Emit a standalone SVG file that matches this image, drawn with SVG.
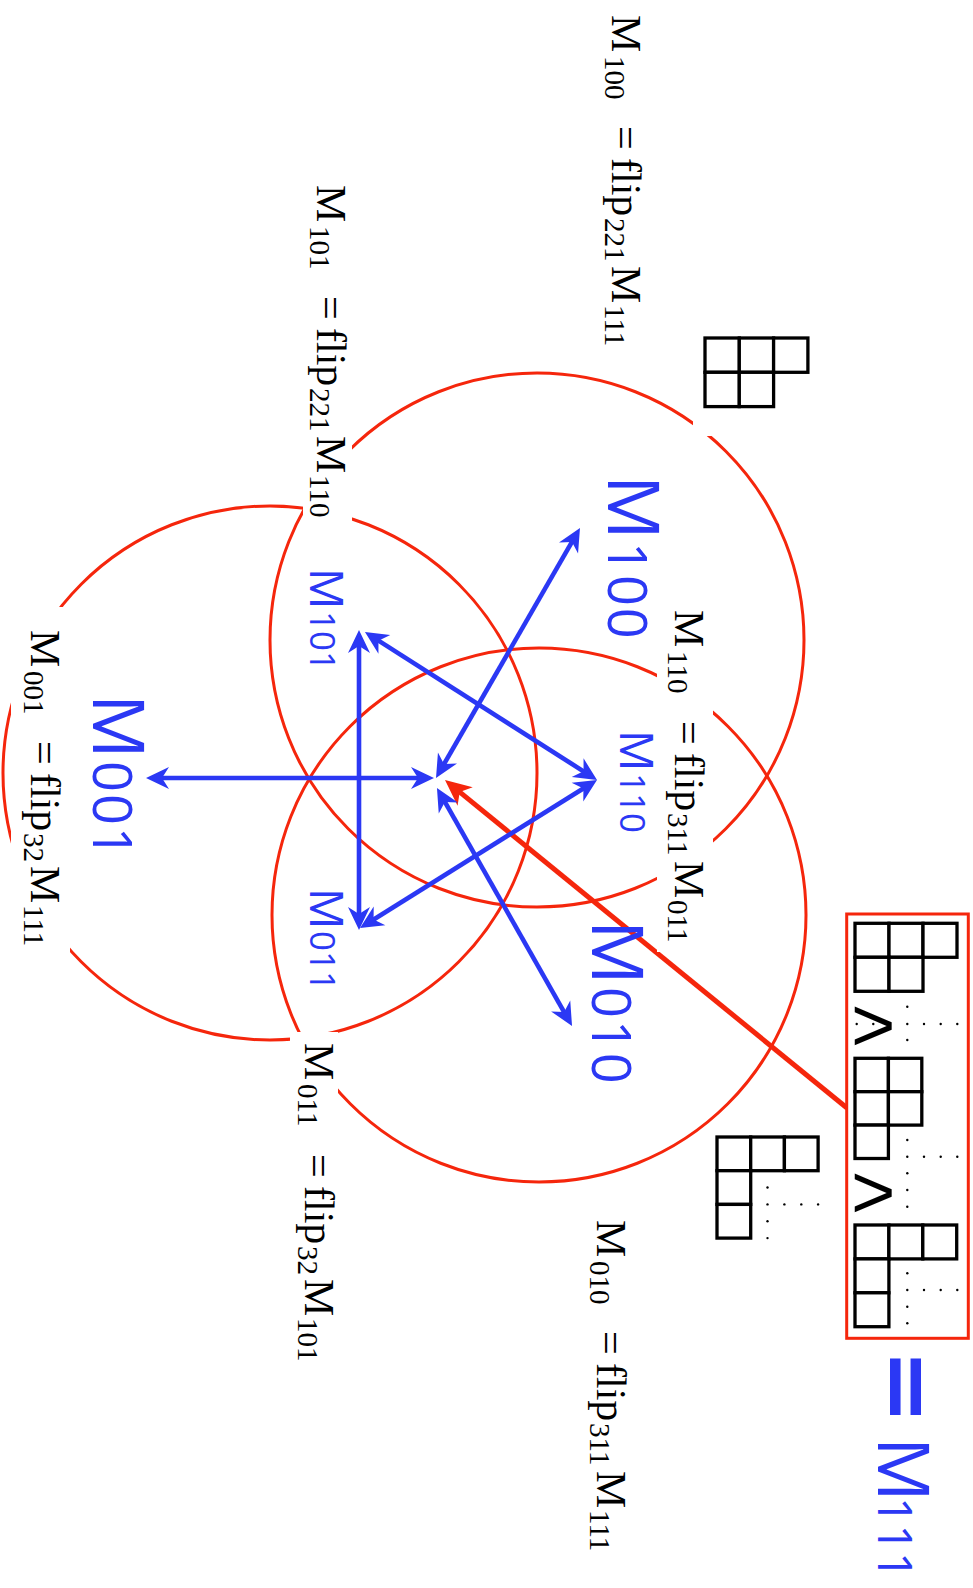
<svg xmlns="http://www.w3.org/2000/svg" width="973" height="1588" viewBox="0 0 973 1588">
<style>
.circ{fill:none;stroke:#f5260c;stroke-width:3}
.bg{fill:#fff}
.lbl{font-family:"Liberation Serif","DejaVu Serif",serif;font-size:42px;fill:#000}
.sub{font-size:29px}
.bl{font-family:"Open Sans","DejaVu Sans",sans-serif;fill:#2b38f4}
.dg{letter-spacing:2px}
.yd{fill:#fff;stroke:#000;stroke-width:3.3}
.dot{fill:#000}
.ba{stroke:#2b38f4;stroke-width:4.6;fill:none;marker-start:url(#hb);marker-end:url(#hb)}
.ra{stroke:#f5260c;stroke-width:5;fill:none;marker-end:url(#hr)}
.chev{font-family:"Liberation Sans","DejaVu Sans",sans-serif;font-size:76px;fill:#000}
</style>
<defs>
<marker id="hb" markerUnits="userSpaceOnUse" markerWidth="40" markerHeight="40" viewBox="-20 -20 40 40" refX="0" refY="0" orient="auto-start-reverse" overflow="visible">
<path d="M10,0 L-13,-11 L-6,0 L-13,11 Z" fill="#2b38f4"/>
</marker>
<marker id="hr" markerUnits="userSpaceOnUse" markerWidth="40" markerHeight="40" viewBox="-20 -20 40 40" refX="0" refY="0" orient="auto" overflow="visible">
<path d="M12,0 L-14,-12 L-7,0 L-14,12 Z" fill="#f5260c"/>
</marker>
</defs>
<rect width="973" height="1588" fill="#fff"/>

<g id="circles">
<circle id="circle-100" class="circ" cx="537" cy="640" r="267"/>
<circle id="circle-010" class="circ" cx="539" cy="915" r="267"/>
<circle id="circle-001" class="circ" cx="270" cy="773" r="267"/>
</g>

<g id="red-connector">
<line class="ra" x1="847" y1="1108" x2="454.3" y2="787.6"/>
</g>

<g id="eq-M100">
<rect class="bg" x="598" y="6" width="50" height="347"/>
<text class="lbl" transform="translate(612,0) rotate(90)"><tspan x="15" y="0">M</tspan><tspan class="sub" x="56" y="7">100</tspan><tspan x="126" y="0">=</tspan><tspan x="158" y="0">flip</tspan><tspan class="sub" x="218" y="7">221</tspan><tspan x="266" y="0">M</tspan><tspan class="sub" x="305" y="7">111</tspan></text>
</g>
<g id="eq-M101">
<rect class="bg" x="303" y="176" width="49" height="356"/>
<text class="lbl" transform="translate(317,0) rotate(90)"><tspan x="185" y="0">M</tspan><tspan class="sub" x="226" y="7">101</tspan><tspan x="296" y="0">=</tspan><tspan x="328" y="0">flip</tspan><tspan class="sub" x="388" y="7">221</tspan><tspan x="436" y="0">M</tspan><tspan class="sub" x="475" y="7">110</tspan></text>
</g>
<g id="eq-M001">
<rect class="bg" x="11" y="607" width="59" height="350"/>
<text class="lbl" transform="translate(31,0) rotate(90)"><tspan x="630" y="0">M</tspan><tspan class="sub" x="671" y="7">001</tspan><tspan x="741" y="0">=</tspan><tspan x="773" y="0">flip</tspan><tspan class="sub" x="833" y="7">32</tspan><tspan x="866" y="0">M</tspan><tspan class="sub" x="905" y="7">111</tspan></text>
</g>
<g id="eq-M110">
<rect class="bg" x="657" y="600" width="56" height="352"/>
<text class="lbl" transform="translate(675,0) rotate(90)"><tspan x="610" y="0">M</tspan><tspan class="sub" x="651" y="7">110</tspan><tspan x="721" y="0">=</tspan><tspan x="753" y="0">flip</tspan><tspan class="sub" x="813" y="7">311</tspan><tspan x="861" y="0">M</tspan><tspan class="sub" x="900" y="7">011</tspan></text>
</g>
<g id="eq-M011">
<rect class="bg" x="290" y="1032" width="48" height="340"/>
<text class="lbl" transform="translate(305,0) rotate(90)"><tspan x="1043" y="0">M</tspan><tspan class="sub" x="1084" y="7">011</tspan><tspan x="1154" y="0">=</tspan><tspan x="1186" y="0">flip</tspan><tspan class="sub" x="1246" y="7">32</tspan><tspan x="1279" y="0">M</tspan><tspan class="sub" x="1318" y="7">101</tspan></text>
</g>
<g id="eq-M010">
<rect class="bg" x="583" y="1210" width="49" height="362"/>
<text class="lbl" transform="translate(597,0) rotate(90)"><tspan x="1220" y="0">M</tspan><tspan class="sub" x="1261" y="7">010</tspan><tspan x="1331" y="0">=</tspan><tspan x="1363" y="0">flip</tspan><tspan class="sub" x="1423" y="7">311</tspan><tspan x="1471" y="0">M</tspan><tspan class="sub" x="1510" y="7">111</tspan></text>
</g>

<g id="young-top">
<rect class="bg" x="693" y="328" width="125" height="108"/>
<rect class="yd" x="705" y="338" width="34.3" height="34.3"/>
<rect class="yd" x="739.3" y="338" width="34.3" height="34.3"/>
<rect class="yd" x="773.6" y="338" width="34.3" height="34.3"/>
<rect class="yd" x="705" y="372.3" width="34.3" height="34.3"/>
<rect class="yd" x="739.3" y="372.3" width="34.3" height="34.3"/>
</g>

<g id="young-middle">
<rect class="yd" x="717" y="1137" width="33.7" height="33.7"/>
<rect class="yd" x="750.7" y="1137" width="33.7" height="33.7"/>
<rect class="yd" x="784.4" y="1137" width="33.7" height="33.7"/>
<rect class="yd" x="717" y="1170.7" width="33.7" height="33.7"/>
<rect class="yd" x="717" y="1204.4" width="33.7" height="33.7"/>
<g class="dot">
<circle cx="767.5" cy="1187.5" r="1.2"/><circle cx="767.5" cy="1204.4" r="1.2"/><circle cx="767.5" cy="1221.3" r="1.2"/><circle cx="767.5" cy="1238.1" r="1.2"/>
<circle cx="784.4" cy="1204.4" r="1.2"/><circle cx="801.3" cy="1204.4" r="1.2"/><circle cx="818.1" cy="1204.4" r="1.2"/>
</g>
</g>

<g id="chain-M111">
<rect x="846.7" y="914" width="121.6" height="424.3" fill="#fff" stroke="#f5260c" stroke-width="3"/>
<rect class="yd" x="855" y="923.3" width="34" height="34"/>
<rect class="yd" x="889" y="923.3" width="34" height="34"/>
<rect class="yd" x="923" y="923.3" width="34" height="34"/>
<rect class="yd" x="855" y="957.3" width="34" height="34"/>
<rect class="yd" x="889" y="957.3" width="34" height="34"/>
<g class="dot">
<circle cx="907.3" cy="1006.7" r="1.2"/><circle cx="907.3" cy="1024" r="1.2"/><circle cx="907.3" cy="1040" r="1.2"/>
<circle cx="856.7" cy="1024" r="1.2"/><circle cx="873.3" cy="1024" r="1.2"/><circle cx="924" cy="1024" r="1.2"/><circle cx="940.7" cy="1024" r="1.2"/><circle cx="957.3" cy="1024" r="1.2"/>
</g>
<text class="chev" x="851" y="1051">&gt;</text>
<rect class="yd" x="855" y="1058.3" width="33.4" height="33.4"/>
<rect class="yd" x="888.4" y="1058.3" width="33.4" height="33.4"/>
<rect class="yd" x="855" y="1091.7" width="33.4" height="33.4"/>
<rect class="yd" x="888.4" y="1091.7" width="33.4" height="33.4"/>
<rect class="yd" x="855" y="1125.1" width="33.4" height="33.4"/>
<g class="dot">
<circle cx="907.3" cy="1140" r="1.2"/><circle cx="907.3" cy="1156.7" r="1.2"/><circle cx="907.3" cy="1173.3" r="1.2"/><circle cx="907.3" cy="1190" r="1.2"/><circle cx="907.3" cy="1206.7" r="1.2"/>
<circle cx="924" cy="1156.7" r="1.2"/><circle cx="940.7" cy="1156.7" r="1.2"/><circle cx="957.3" cy="1156.7" r="1.2"/>
</g>
<text class="chev" x="851" y="1218">&gt;</text>
<rect class="yd" x="855" y="1225" width="33.9" height="33.9"/>
<rect class="yd" x="888.9" y="1225" width="33.9" height="33.9"/>
<rect class="yd" x="922.8" y="1225" width="33.9" height="33.9"/>
<rect class="yd" x="855" y="1258.9" width="33.9" height="33.9"/>
<rect class="yd" x="855" y="1292.8" width="33.9" height="33.9"/>
<g class="dot">
<circle cx="907.3" cy="1273.3" r="1.2"/><circle cx="907.3" cy="1290" r="1.2"/><circle cx="907.3" cy="1306.7" r="1.2"/><circle cx="907.3" cy="1323.3" r="1.2"/>
<circle cx="924" cy="1290" r="1.2"/><circle cx="940.7" cy="1290" r="1.2"/><circle cx="957.3" cy="1290" r="1.2"/>
</g>
</g>

<g id="blue-connectors">
<line class="ba" x1="156" y1="778" x2="424" y2="778"/>
<line class="ba" x1="359" y1="640" x2="359" y2="920"/>
<line class="ba" x1="373.4" y1="637.4" x2="588.6" y2="774.6"/>
<line class="ba" x1="368.5" y1="922.7" x2="588.5" y2="785.3"/>
<line class="ba" x1="575" y1="536.7" x2="441" y2="769.3"/>
<line class="ba" x1="441.9" y1="796.7" x2="567.1" y2="1017.3"/>
</g>

<g id="node-M100"><text class="bl" transform="translate(608,0) rotate(90)"><tspan x="475" y="0" font-size="72">M</tspan><tspan class="dg" x="542" y="0" font-size="54">100</tspan></text></g>
<g id="node-M010"><text class="bl" transform="translate(592,0) rotate(90)"><tspan x="920" y="0" font-size="72">M</tspan><tspan class="dg" x="987" y="0" font-size="54">010</tspan></text></g>
<g id="node-M001"><text class="bl" transform="translate(93,0) rotate(90)"><tspan x="694" y="0" font-size="72">M</tspan><tspan class="dg" x="761" y="0" font-size="54">001</tspan></text></g>
<g id="node-M101"><text class="bl" transform="translate(310,0) rotate(90)"><tspan x="568" y="0" font-size="46">M</tspan><tspan x="611" y="0" font-size="35">101</tspan></text></g>
<g id="node-M110"><text class="bl" transform="translate(620,0) rotate(90)"><tspan x="730" y="0" font-size="46">M</tspan><tspan x="773" y="0" font-size="35">110</tspan></text></g>
<g id="node-M011"><text class="bl" transform="translate(310,0) rotate(90)"><tspan x="888" y="0" font-size="46">M</tspan><tspan x="931" y="0" font-size="35">011</tspan></text></g>
<g id="node-M111">
<text transform="translate(877,0) rotate(90)" x="1349" y="0" font-family="'DejaVu Sans',sans-serif" font-size="90" font-weight="bold" fill="#2b38f4">=</text>
<text class="bl" transform="translate(878,0) rotate(90)"><tspan x="1437" y="0" font-size="72">M</tspan><tspan x="1497" y="0" font-size="48">111</tspan></text>
</g>
</svg>
